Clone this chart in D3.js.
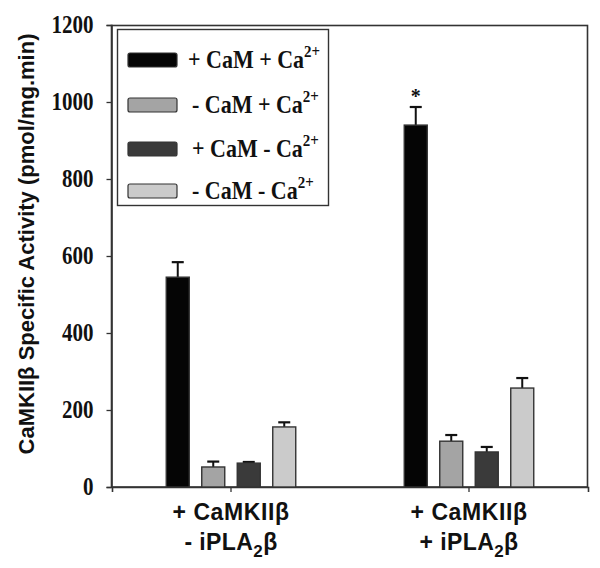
<!DOCTYPE html>
<html><head><meta charset="utf-8">
<script src="https://cdn.jsdelivr.net/npm/d3@7"></script>
<style>body{margin:0;background:#fff}svg{display:block}</style>
</head><body>
<script>
// ---- data ----
const groups = ["g1", "g2"];
const groupLine1 = ["+ CaMKIIβ", "+ CaMKIIβ"];
const groupLine2Prefix = ["- iPLA", "+ iPLA"];
const seriesSigns = [["+", "+"], ["-", "+"], ["+", "-"], ["-", "-"]]; // CaM, Ca2+
const seriesColors = ["#050505", "#a4a4a4", "#3a3a3a", "#cbcbcb"];
const values = [[545, 940], [52, 119], [62, 91], [156, 257]];
const errors = [[39, 47], [14, 16], [3, 13], [12, 26]];
const yTicks = [0, 200, 400, 600, 800, 1000, 1200];
const significant = [[false, true], [false, false], [false, false], [false, false]];

const W = 600, H = 568;
const svg = d3.select("body").append("svg").attr("width", W).attr("height", H);

const x0 = d3.scaleBand().domain(groups).range([112, 588]).padding(0);
const x1 = d3.scaleBand().domain(d3.range(4)).range([-71, 71]).paddingInner(0.352).paddingOuter(0.176);
const y = d3.scaleLinear().domain([0, 1200]).range([487, 25]);

// frame
svg.append("rect").attr("x", 111.5).attr("y", 25.5).attr("width", 476).attr("height", 461.5)
  .attr("fill", "none").attr("stroke", "#333").attr("stroke-width", 1.6);

// y axis
const ya = svg.append("g").attr("transform", "translate(111.5,0)")
  .call(d3.axisLeft(y).tickValues(yTicks).tickSize(5).tickPadding(13).tickFormat(d3.format("d")));
ya.select(".domain").attr("stroke", "#333").attr("stroke-width", 1.6);
ya.selectAll(".tick line").attr("stroke", "#333").attr("stroke-width", 1.3);
ya.selectAll(".tick text").attr("font-family", "Liberation Serif, Times New Roman, serif")
  .attr("font-weight", "bold").attr("font-size", 21).attr("fill", "#111")
  .attr("dy", null).attr("y", 0)
  .attr("transform", "translate(0,7) scale(1,1.15)");

// x axis ticks
const xa = svg.append("g").attr("transform", "translate(0,487)")
  .call(d3.axisBottom(x0).tickSize(5).tickFormat(""));
xa.select(".domain").attr("stroke", "#333").attr("stroke-width", 1.6);
xa.selectAll(".tick line").attr("stroke", "#333").attr("stroke-width", 1.3);

// x labels
groups.forEach((g, i) => {
  const cx = x0(g) + x0.bandwidth() / 2;
  svg.append("text").attr("x", cx).attr("y", 520).attr("text-anchor", "middle")
    .attr("font-family", "Liberation Sans, Arial, sans-serif").attr("font-weight", "bold")
    .attr("font-size", 23).attr("letter-spacing", 0.6).attr("fill", "#111").text(groupLine1[i]);
  const t = svg.append("text").attr("x", cx).attr("y", 550).attr("text-anchor", "middle")
    .attr("font-family", "Liberation Sans, Arial, sans-serif").attr("font-weight", "bold")
    .attr("font-size", 23).attr("letter-spacing", 0.4).attr("fill", "#111");
  t.append("tspan").text(groupLine2Prefix[i]);
  t.append("tspan").attr("dy", 7).attr("font-size", 17).text("2");
  t.append("tspan").attr("dy", -7).text("β");
});

// y title
svg.append("text").attr("transform", "translate(34,244) rotate(-90)").attr("text-anchor", "middle")
  .attr("font-family", "Liberation Sans, Arial, sans-serif").attr("font-weight", "bold")
  .attr("font-size", 22).attr("fill", "#111")
  .text("CaMKIIβ Specific Activity (pmol/mg.min)");

// bars
const bars = svg.append("g");
values.forEach((vals, s) => {
  vals.forEach((v, gi) => {
    const g = groups[gi];
    const bx = x0(g) + x0.bandwidth() / 2 + x1(s);
    const bw = x1.bandwidth();
    const top = y(v + errors[s][gi]);
    const cx = bx + bw / 2;
    bars.append("line").attr("x1", cx).attr("x2", cx).attr("y1", y(v)).attr("y2", top)
      .attr("stroke", "#111").attr("stroke-width", 2);
    bars.append("line").attr("x1", cx - 6).attr("x2", cx + 6).attr("y1", top).attr("y2", top)
      .attr("stroke", "#111").attr("stroke-width", 2.2);
    bars.append("rect").attr("x", bx).attr("y", y(v)).attr("width", bw).attr("height", y(0) - y(v))
      .attr("fill", seriesColors[s]).attr("stroke", "#333").attr("stroke-width", 1.4);
    if (significant[s][gi]) {
      svg.append("text").attr("x", cx).attr("y", top - 4).attr("text-anchor", "middle")
        .attr("font-family", "Liberation Serif, serif").attr("font-weight", "bold")
        .attr("font-size", 20).attr("fill", "#111").text("*");
    }
  });
});

// legend
const leg = svg.append("g");
leg.append("rect").attr("x", 117.5).attr("y", 29.5).attr("width", 211).attr("height", 176)
  .attr("fill", "#fff").attr("stroke", "#333").attr("stroke-width", 1.4);
const legY = [60, 105, 149, 191];
seriesSigns.forEach((sg, i) => {
  leg.append("rect").attr("x", 128).attr("y", legY[i] - 7).attr("width", 49).attr("height", 14)
    .attr("rx", 2).attr("fill", seriesColors[i]).attr("stroke", "#333").attr("stroke-width", 1.2);
  const t = leg.append("text").attr("x", 0).attr("y", 0)
    .attr("transform", `translate(${i === 0 ? 188 : 192},${legY[i] + 8}) scale(1,1.18)`)
    .attr("font-family", "Liberation Serif, Times New Roman, serif").attr("font-weight", "bold")
    .attr("font-size", 22).attr("fill", "#111");
  t.append("tspan").text(sg[0] + " CaM " + sg[1] + " Ca");
  t.append("tspan").attr("dy", -9).attr("font-size", 15).text("2+");
});
</script>
</body></html>
